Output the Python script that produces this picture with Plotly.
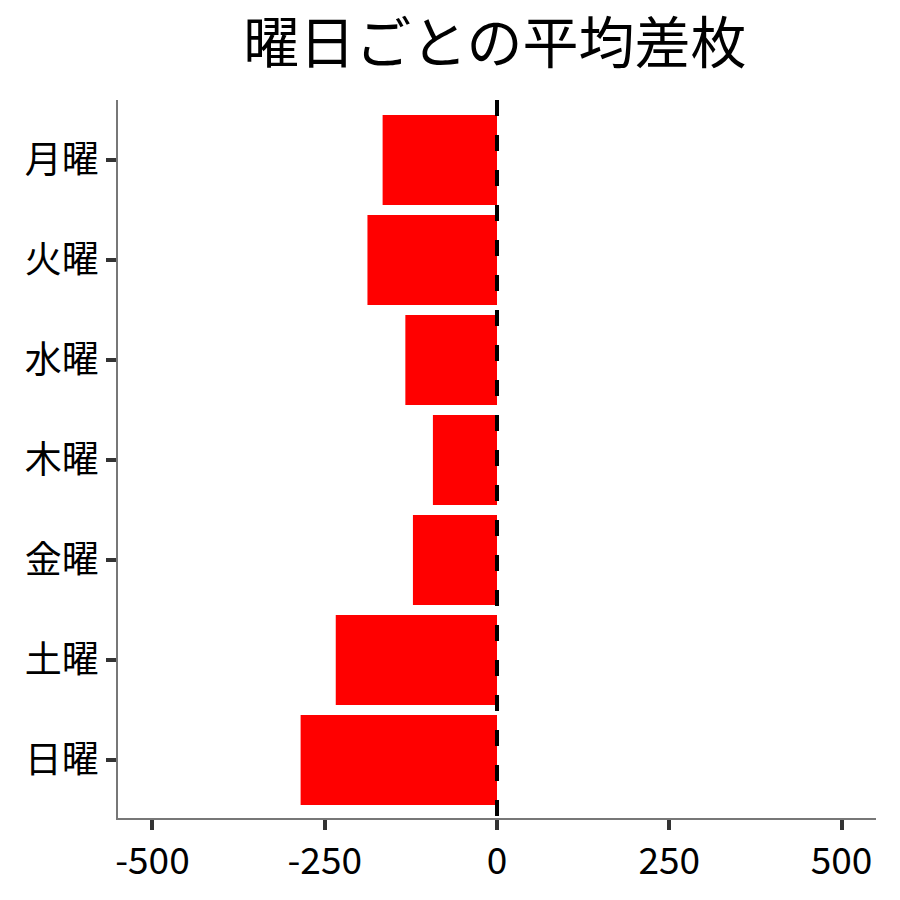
import plotly.graph_objects as go

days = ["月曜", "火曜", "水曜", "木曜", "金曜", "土曜", "日曜"]
avg_diff = [-166, -188, -133, -93, -122, -234, -285]
x_ticks = [-500, -250, 0, 250, 500]

font = "Noto Sans CJK JP"

fig = go.Figure()
fig.add_trace(go.Bar(
    x=avg_diff,
    y=days,
    orientation="h",
    marker=dict(color="#ff0000", line=dict(width=0)),
    width=0.9,
))

# 0 の縦破線 (上から描く)
fig.add_shape(
    type="line",
    xref="x", yref="paper",
    x0=0, x1=0, y0=1, y1=0,
    line=dict(color="black", width=4, dash="16px,19px"),
)

# ページ本体の余白 (8px) の分だけ内側に寄せる
fig.update_layout(
    width=900,
    height=900,
    margin=dict(l=110, r=32, t=92, b=90),
    plot_bgcolor="white",
    paper_bgcolor="white",
    showlegend=False,
    title=dict(
        text="曜日ごとの平均差枚",
        font=dict(family=font, size=56, color="black"),
        x=0.541,
        xanchor="center",
        xref="container",
        y=0.961,
        yanchor="middle",
        yref="container",
    ),
    font=dict(family=font, color="black"),
)

fig.update_xaxes(
    range=[-550, 550],
    tickvals=x_ticks,
    ticktext=[str(v) for v in x_ticks],
    showgrid=False,
    zeroline=False,
    showline=True,
    linecolor="#777777",
    linewidth=1.5,
    ticks="outside",
    ticklen=10,
    tickwidth=4,
    tickcolor="#333333",
    tickfont=dict(family=font, size=37, color="black"),
)
fig.update_yaxes(
    categoryorder="array",
    categoryarray=days,
    autorange=False,
    range=[6.58, -0.6],
    showgrid=False,
    zeroline=False,
    showline=True,
    linecolor="#777777",
    linewidth=1.5,
    ticks="outside",
    ticklen=10,
    tickwidth=4,
    tickcolor="#333333",
    tickfont=dict(family=font, size=37, color="black"),
)

fig.write_html("out.html")
